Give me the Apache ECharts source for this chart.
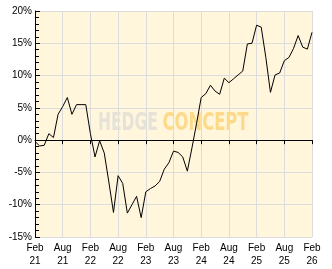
<!DOCTYPE html>
<html>
<head>
<meta charset="utf-8">
<script src="https://cdn.jsdelivr.net/npm/echarts@6/dist/echarts.min.js"></script>
<style>html,body{margin:0;padding:0;background:#fff;}#c{width:332px;height:269px;}</style>
</head>
<body>
<div id="c"></div>
<script>
var monthNames = ['Jan','Feb','Mar','Apr','May','Jun','Jul','Aug','Sep','Oct','Nov','Dec'];
var startYear = 2021, startMonth = 1; // Feb 2021
var categories = [];
for (var i = 0; i <= 60; i++) {
  var m = (startMonth + i) % 12;
  var y = startYear + Math.floor((startMonth + i) / 12);
  categories.push(monthNames[m] + '\n' + String(y).slice(2));
}
var values = [
  -0.2, -0.9, -0.8, 1.0, 0.4, 4.0, 5.2, 6.6, 4.0, 5.5, 5.5, 5.5,
  1.0, -2.6, -0.1, -2.0, -6.5, -11.2, -5.5, -6.7, -11.3, -10.0, -8.7, -12.0,
  -8.0, -7.5, -7.1, -6.4, -4.5, -3.5, -1.7, -1.9, -2.6, -4.8, -1.2, 2.6,
  6.6, 7.2, 8.5, 7.6, 7.1, 9.6, 8.9, 9.5, 10.1, 10.7, 14.9, 15.0,
  17.8, 17.5, 12.8, 7.4, 10.1, 10.4, 12.3, 12.8, 14.2, 16.2, 14.4, 14.1,
  16.7
];
var yMin = -15, yMax = 20, yStep = 5;

var chart = echarts.init(document.getElementById('c'), null, {renderer: 'canvas'});
var labelFont = {fontFamily: 'Liberation Sans', fontSize: 10, color: '#000'};
chart.setOption({
  animation: false,
  backgroundColor: '#ffffff',
  grid: {left: 35, right: 20, top: 11, bottom: 32, show: true, backgroundColor: '#fff6dc', borderWidth: 0},
  graphic: [
    {type: 'text', x: 98, y: 111, scaleX: 0.62, z: 1,
     style: {text: 'HEDGE', fill: '#e6e2d8', font: 'bold 25px "DejaVu Sans"'}},
    {type: 'text', x: 162.5, y: 111, scaleX: 0.655, z: 1,
     style: {text: 'CONCEPT', fill: '#fdd98a', font: 'bold 25px "DejaVu Sans"'}}
  ],
  xAxis: {
    type: 'category',
    data: categories,
    boundaryGap: false,
    axisLine: {show: true, lineStyle: {color: '#000', width: 1}},
    axisTick: {show: true, interval: 5, length: 4, lineStyle: {color: '#000'}},
    axisLabel: Object.assign({interval: 5, margin: 5, lineHeight: 13}, labelFont),
    splitLine: {show: true, interval: 5, lineStyle: {color: '#dcdcdc', width: 1}}
  },
  yAxis: {
    type: 'value',
    min: yMin, max: yMax, interval: yStep,
    axisLine: {show: true, lineStyle: {color: '#000', width: 1}},
    axisTick: {show: true, inside: true, length: 5, lineStyle: {color: '#000'}},
    minorTick: {show: true, splitNumber: 5, length: 4, lineStyle: {color: '#000'}},
    axisLabel: Object.assign({margin: 3, formatter: '{value}%'}, labelFont),
    splitLine: {show: true, lineStyle: {color: '#dcdcdc', width: 1}}
  },
  series: [{
    type: 'line',
    data: values,
    showSymbol: false,
    symbol: 'none',
    lineStyle: {color: '#000', width: 1},
    z: 3
  }]
});
</script>
</body>
</html>
